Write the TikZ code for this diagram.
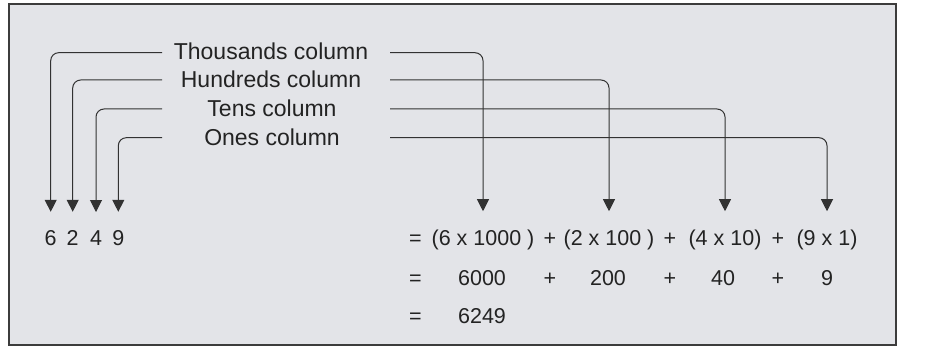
\documentclass[tikz,border=0pt]{standalone}
\usepackage{fontspec}
\setmainfont{Liberation Sans}
\usetikzlibrary{arrows.meta}
\definecolor{bgfill}{RGB}{227,228,232}
\definecolor{ink}{RGB}{35,35,35}
\definecolor{wire}{RGB}{50,50,50}
\definecolor{frame}{RGB}{60,60,60}
\begin{document}
\begin{tikzpicture}[x=1pt,y=-1pt,
  lbl/.style={font=\fontsize{23}{27}\selectfont, text=ink, inner sep=0pt, anchor=base},
  num/.style={font=\fontsize{21.5}{26}\selectfont, text=ink, inner sep=0pt, anchor=base},
  wirepath/.style={draw=wire, line width=1pt, rounded corners=8pt, shorten >=18pt,
    -{Triangle[length=12pt,width=12pt]}}]
\useasboundingbox (0,0) rectangle (925,347);
\draw[draw=frame, line width=2pt, fill=bgfill] (9,4) rectangle (896,345);
% labels
\node[lbl] (lth) at (271,60) {Thousands column};
\node[lbl] (lhu) at (271,87.7) {Hundreds column};
\node[lbl] (lte) at (272,117) {Tens column};
\node[lbl] (lon) at (272,146) {Ones column};
% line end coordinates beside labels
\coordinate (thL) at (162,52.7);
\coordinate (huL) at (162,80);
\coordinate (teL) at (162,109);
\coordinate (onL) at (162,137.7);
\coordinate (thR) at (390,52.7);
\coordinate (huR) at (390,80);
\coordinate (teR) at (390,109);
\coordinate (onR) at (390,137.7);
% digits
\node[num] (d6) at (50.7,245) {6};
\node[num] (d2) at (72.7,245) {2};
\node[num] (d4) at (96,245) {4};
\node[num] (d9) at (118.3,245) {9};
% row 1
\node[num] (eqa) at (415.5,245) {=};
\node[num] (e1) at (483,245) {(6 x 1000 )};
\node[num] (pa1) at (550,245) {+};
\node[num] (e2) at (609,245) {(2 x 100 )};
\node[num] (pa2) at (670,245) {+};
\node[num] (e3) at (725,245) {(4 x 10)};
\node[num] (pa3) at (778,245) {+};
\node[num] (e4) at (827,245) {(9 x 1)};
% row 2
\node[num] (eqb) at (415.5,285) {=};
\node[num] (v1) at (482,285) {6000};
\node[num] (pb1) at (550,285) {+};
\node[num] (v2) at (608,285) {200};
\node[num] (pb2) at (670,285) {+};
\node[num] (v3) at (723,285) {40};
\node[num] (pb3) at (778,285) {+};
\node[num] (v4) at (827,285) {9};
% row 3
\node[num] (eqc) at (415.5,323.5) {=};
\node[num] (tot) at (482,323.5) {6249};
% connectors
\draw[wirepath] (thL) -| (d6.north);
\draw[wirepath] (huL) -| (d2.north);
\draw[wirepath] (teL) -| (d4.north);
\draw[wirepath] (onL) -| (d9.north);
\draw[wirepath] (thR) -| (e1.north);
\draw[wirepath] (huR) -| (e2.north);
\draw[wirepath] (teR) -| (e3.north);
\draw[wirepath] (onR) -| (e4.north);
\end{tikzpicture}
\end{document}
